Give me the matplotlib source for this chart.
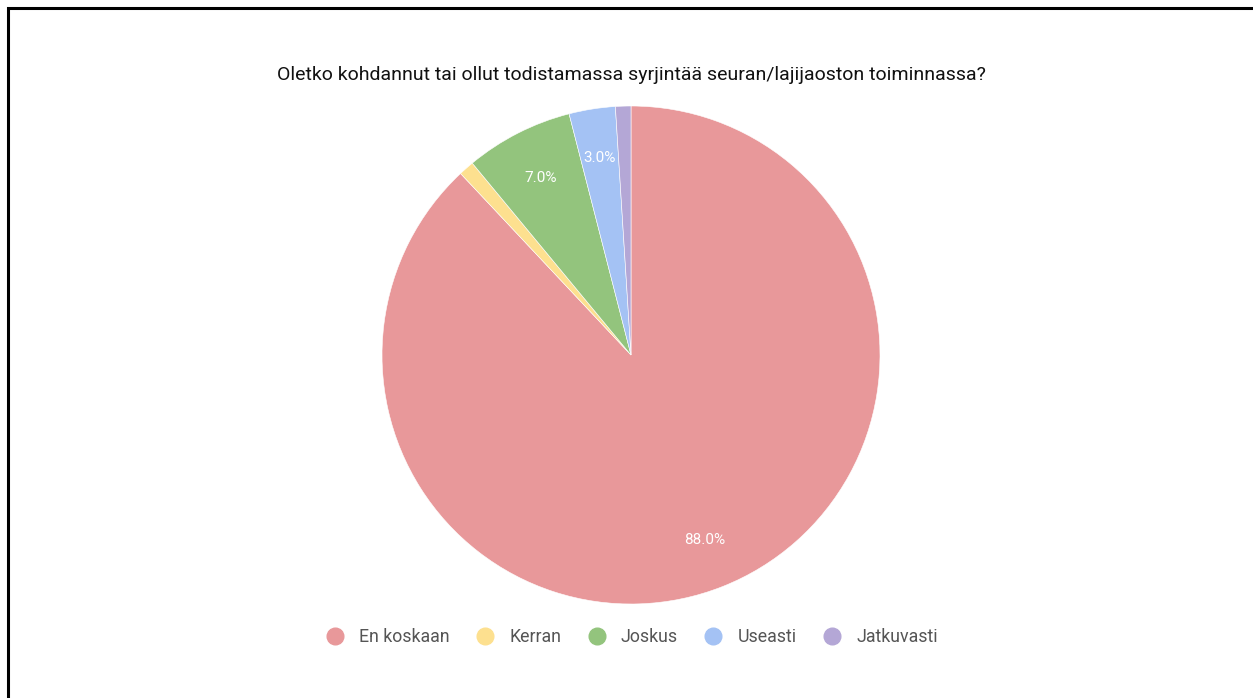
import matplotlib.pyplot as plt
from matplotlib.lines import Line2D
from matplotlib.patches import Rectangle

plt.rcParams['font.family'] = ['Roboto', 'DejaVu Sans']

TITLE = "Oletko kohdannut tai ollut todistamassa syrjintää seuran/lajijaoston toiminnassa?"
categories = ["En koskaan", "Kerran", "Joskus", "Useasti", "Jatkuvasti"]
values = [88.0, 1.0, 7.0, 3.0, 1.0]
colors = ["#E8989A", "#FDE08F", "#93C47D", "#A4C2F4", "#B4A7D6"]

fig = plt.figure(figsize=(12.53, 6.98), dpi=100)

# frame around the picture
fig.patches.append(Rectangle((7.5 / 1253, -0.01), 1.05, (698 - 7.5) / 698 + 0.01,
                             transform=fig.transFigure, fill=False,
                             edgecolor='black', linewidth=2.2))

ax = fig.add_axes([382 / 1253, (698 - 604) / 698, 498 / 1253, 498 / 698])


def pct(p):
    return f"{p:.1f}%" if p >= 2 else ""


wedges, texts, autotexts = ax.pie(values, colors=colors, startangle=90, counterclock=False,
                                  autopct=pct, pctdistance=0.8, radius=1,
                                  wedgeprops=dict(edgecolor='white', linewidth=0.4),
                                  textprops=dict(color='white', fontsize=11))
ax.set_xlim(-1, 1)
ax.set_ylim(-1, 1)
ax.set_aspect('equal')
ax.axis('off')

fig.text(631 / 1253, 1 - 75 / 698, TITLE, ha='center', va='center', fontsize=14, color='#111111')

handles = [Line2D([0], [0], marker='o', linestyle='', markersize=12,
                  markerfacecolor=c, markeredgecolor=c) for c in colors]
fig.legend(handles, categories, loc='center', bbox_to_anchor=(631 / 1253, 1 - 637 / 698),
           ncol=5, frameon=False, fontsize=12.8, labelcolor='#555555',
           handletextpad=0.75, columnspacing=1.4, handlelength=1.2)

fig.savefig("out.png", dpi=100)
